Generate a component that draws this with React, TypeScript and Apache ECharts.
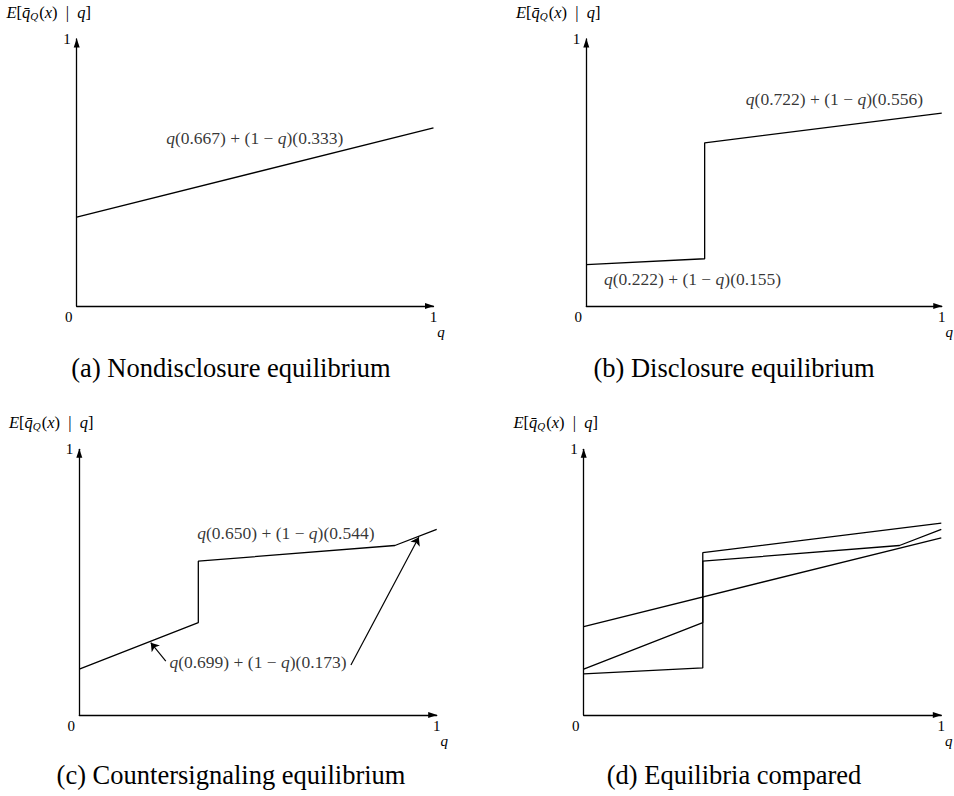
import React, { useEffect, useRef } from "react";
import * as echarts from "echarts";

// ---- data ----
const nondisclosureQ = [0, 1];
const nondisclosureE = [0.333, 0.667];

const disclosureQ = [0, 0.333, 0.333, 1];
const disclosureE = [0.155, 0.177, 0.611, 0.722];

const counterQ = [0, 0.333, 0.333, 0.883, 1];
const counterE = [0.173, 0.348, 0.579, 0.638, 0.699];

const captions = [
  "(a) Nondisclosure equilibrium",
  "(b) Disclosure equilibrium",
  "(c) Countersignaling equilibrium",
  "(d) Equilibria compared",
];

// annotation texts and their anchor points (data coords)
const labelTexts = [
  "{i|q}(0.667) + (1 − {i|q})(0.333)",
  "{i|q}(0.722) + (1 − {i|q})(0.556)",
  "{i|q}(0.222) + (1 − {i|q})(0.155)",
  "{i|q}(0.650) + (1 − {i|q})(0.544)",
  "{i|q}(0.699) + (1 − {i|q})(0.173)",
];
const labelPanel = [0, 1, 1, 2, 2];
const labelQ = [0.499, 0.698, 0.299, 0.578, 0.5];
const labelE = [0.63, 0.774, 0.1, 0.686, 0.2];

// arrows in panel (c): [fromQ, fromE, toQ, toE]
const arrowFrom = [
  [0.242, 0.203],
  [0.76, 0.188],
];
const arrowTo = [
  [0.2, 0.272],
  [0.95, 0.669],
];

const FONT = "'Liberation Serif', 'DejaVu Serif', serif";

const zip = (xs: number[], ys: number[]) => xs.map((x, i) => [x, ys[i]]);

export default function App() {
  const ref = useRef<HTMLDivElement>(null);

  useEffect(() => {
    if (!ref.current) return;
    const chart = echarts.init(ref.current, undefined, { renderer: "svg" });

    const grids = [
      { left: 76.7, top: 39, width: 356.8, height: 267 },
      { left: 586.3, top: 39, width: 358, height: 267 },
      { left: 79.3, top: 449.3, width: 357.4, height: 265.7 },
      { left: 583.7, top: 449.3, width: 357.6, height: 265.7 },
    ];

    const axisLine = {
      show: true,
      onZero: false,
      lineStyle: { color: "#000", width: 1.3 },
      symbol: ["none", "triangle"],
      symbolSize: [6, 9],
      symbolOffset: [0, -4],
    };

    const xAxes = grids.map((_, i) => ({
      type: "value",
      gridIndex: i,
      min: 0,
      max: 1,
      interval: 1,
      axisLine,
      axisTick: { show: false },
      splitLine: { show: false },
      axisLabel: {
        margin: 3,
        color: "#000",
        fontFamily: FONT,
        fontSize: 15,
        formatter: (v: number) => (v === 0 ? "{z|0}" : "{o|1}"),
        rich: {
          z: { padding: [0, 16, 0, 0], fontFamily: FONT, fontSize: 15, color: "#000" },
          o: { fontFamily: FONT, fontSize: 15, color: "#000" },
        },
      },
      name: "q",
      nameLocation: "end",
      nameGap: 7.5,
      nameTextStyle: {
        fontFamily: FONT,
        fontStyle: "italic",
        fontSize: 15,
        color: "#000",
        align: "center",
        verticalAlign: "top",
        padding: [18, 0, 0, 0],
      },
    }));

    const yAxes = grids.map((_, i) => ({
      type: "value",
      gridIndex: i,
      min: 0,
      max: 1,
      interval: 1,
      axisLine,
      axisTick: { show: false },
      splitLine: { show: false },
      axisLabel: {
        margin: 6,
        color: "#000",
        fontFamily: FONT,
        fontSize: 15,
        formatter: (v: number) => (v === 1 ? "1" : ""),
      },
      name: "{i|E}[{i|q̄}{s|Q}({i|x})  |  {i|q}]",
      nameLocation: "end",
      nameGap: 18,
      nameTextStyle: {
        fontFamily: FONT,
        fontSize: 16.5,
        color: "#000",
        align: "center",
        padding: [0, 56, 0, 0],
        rich: {
          i: { fontFamily: FONT, fontSize: 16.5, fontStyle: "italic", color: "#000" },
          s: { fontFamily: FONT, fontSize: 11, fontStyle: "italic", color: "#000", verticalAlign: "bottom", padding: [7, 1, 0, 0] },
        },
      },
    }));

    const lineStyle = { color: "#000", width: 1.3 };
    const mkLine = (idx: number, data: number[][]) => ({
      type: "line",
      xAxisIndex: idx,
      yAxisIndex: idx,
      data,
      showSymbol: false,
      symbol: "none",
      lineStyle,
      silent: true,
    });

    const series: any[] = [
      mkLine(0, zip(nondisclosureQ, nondisclosureE)),
      mkLine(1, zip(disclosureQ, disclosureE)),
      mkLine(2, zip(counterQ, counterE)),
      mkLine(3, zip(nondisclosureQ, nondisclosureE)),
      mkLine(3, zip(disclosureQ, disclosureE)),
      mkLine(3, zip(counterQ, counterE)),
    ];

    // annotation labels
    labelTexts.forEach((t, k) => {
      const p = labelPanel[k];
      series.push({
        type: "scatter",
        xAxisIndex: p,
        yAxisIndex: p,
        symbolSize: 0,
        silent: true,
        data: [[labelQ[k], labelE[k]]],
        label: {
          show: true,
          position: "inside",
          formatter: t,
          fontFamily: FONT,
          fontSize: 17.5,
          color: "#000",
          rich: {
            i: { fontFamily: FONT, fontSize: 17.5, fontStyle: "italic", color: "#000" },
          },
        },
      });
    });

    // arrows in panel (c)
    series.push({
      type: "lines",
      coordinateSystem: "cartesian2d",
      xAxisIndex: 2,
      yAxisIndex: 2,
      silent: true,
      symbol: ["none", "arrow"],
      symbolSize: 8,
      lineStyle: { color: "#000", width: 1.2, opacity: 1, curveness: 0 },
      data: arrowFrom.map((f, k) => ({ coords: [f, arrowTo[k]] })),
    });

    const capPos = [
      [231, 368],
      [734, 368],
      [231, 775],
      [734, 775],
    ];

    chart.setOption({
      animation: false,
      backgroundColor: "#fff",
      textStyle: { fontFamily: FONT },
      grid: grids,
      xAxis: xAxes,
      yAxis: yAxes,
      series,
      graphic: captions.map((c, k) => ({
        type: "text",
        x: capPos[k][0],
        y: capPos[k][1],
        style: {
          text: c,
          fontFamily: FONT,
          fontSize: 26.5,
          fill: "#000",
          align: "center",
          verticalAlign: "middle",
        },
      })),
    });

    return () => chart.dispose();
  }, []);

  return (
    <div
      ref={ref}
      style={{ position: "fixed", left: 0, top: 0, width: 954, height: 796, background: "#fff" }}
    />
  );
}
